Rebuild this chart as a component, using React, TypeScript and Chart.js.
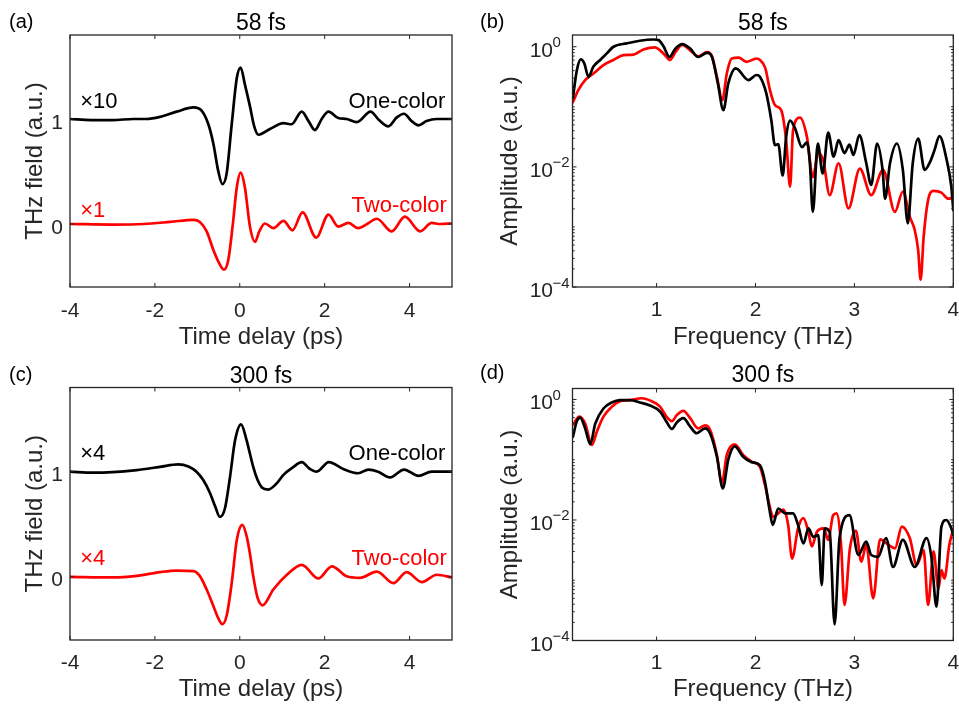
import React, { useEffect, useRef } from "react";
import { Chart, registerables } from "chart.js";

Chart.register(...registerables);

const FONT = '"Liberation Sans", Arial, Helvetica, sans-serif';
const AXIS_COLOR = "#262626";
const BLACK = "#000000";
const RED = "#ff0000";

// ---------- tick values ----------
const TIME_TICKS = [-4, -2, 0, 2, 4];
const FIELD_TICKS = [0, 1];
const FREQ_TICKS = [1, 2, 3, 4];
const AMP_TICKS = [1, 1e-2, 1e-4];
const AMP_EXP = ["0", "\u22122", "\u22124"];

// ---------- (a) 58 fs, time domain ----------
const A_ONE_T = [-4, -3.5, -3, -2.5, -2.2, -1.88, -1.49, -1.09, -0.9, -0.74, -0.62, -0.51, -0.41, -0.31, -0.19, -0.07, 0.02, 0.12, 0.24, 0.34, 0.44, 0.71, 1.03, 1.22, 1.46, 1.62, 1.77, 1.93, 2.09, 2.32, 2.52, 2.76, 3.08, 3.28, 3.5, 3.7, 3.87, 4.05, 4.21, 4.4, 4.64, 5.0];
const A_ONE_V = [1.0, 0.99, 0.99, 1.0, 1.0, 1.02, 1.07, 1.11, 1.08, 0.95, 0.76, 0.51, 0.38, 0.48, 0.95, 1.39, 1.49, 1.33, 1.12, 0.93, 0.85, 0.905, 0.96, 0.95, 1.07, 0.98, 0.895, 1.0, 1.07, 1.01, 1.0, 0.97, 1.07, 0.99, 0.93, 1.015, 1.05, 0.98, 0.94, 0.98, 1.0, 1.0];
const A_TWO_T = [-4, -3, -2.27, -1.64, -1.09, -0.94, -0.78, -0.62, -0.49, -0.37, -0.27, -0.17, -0.07, 0.02, 0.12, 0.24, 0.36, 0.46, 0.59, 0.79, 1.03, 1.24, 1.48, 1.8, 2.09, 2.32, 2.56, 2.79, 3.0, 3.23, 3.58, 3.89, 4.25, 4.52, 4.72, 5.0];
const A_TWO_V = [0, -0.005, 0, 0.02, 0.04, 0.02, -0.07, -0.25, -0.37, -0.435, -0.34, -0.025, 0.35, 0.49, 0.35, -0.025, -0.17, -0.07, 0.005, -0.04, 0.03, -0.06, 0.11, -0.13, 0.09, -0.025, 0.01, -0.04, 0.0, 0.05, -0.07, 0.07, -0.07, 0.01, 0.0, 0.005];

// ---------- (c) 300 fs, time domain ----------
const C_ONE_T = [-4, -3.45, -2.43, -1.88, -1.45, -1.21, -1.02, -0.86, -0.7, -0.58, -0.47, -0.35, -0.23, -0.11, 0.03, 0.16, 0.24, 0.32, 0.42, 0.52, 0.67, 0.85, 1.03, 1.25, 1.46, 1.64, 1.81, 2.1, 2.44, 2.79, 3.03, 3.26, 3.54, 3.87, 4.21, 4.52, 5.0];
const C_ONE_V = [1.0, 0.99, 1.015, 1.046, 1.07, 1.05, 1.0, 0.92, 0.795, 0.67, 0.57, 0.65, 0.95, 1.3, 1.45, 1.3, 1.17, 1.04, 0.92, 0.85, 0.83, 0.88, 0.97, 1.04, 1.09, 1.03, 1.0, 1.09, 1.025, 0.985, 1.02, 1.0, 0.945, 1.02, 0.96, 1.0, 1.0];
const C_TWO_T = [-4, -3, -2.43, -1.88, -1.49, -1.09, -0.94, -0.78, -0.62, -0.51, -0.41, -0.31, -0.19, -0.07, 0.06, 0.16, 0.24, 0.32, 0.42, 0.54, 0.79, 1.11, 1.46, 1.85, 2.17, 2.52, 2.83, 3.23, 3.62, 3.93, 4.29, 4.64, 5.0];
const C_TWO_V = [0, -0.005, 0.01, 0.045, 0.06, 0.055, 0.007, -0.12, -0.28, -0.39, -0.45, -0.37, -0.06, 0.35, 0.495, 0.39, 0.22, 0.0, -0.2, -0.27, -0.12, 0.02, 0.115, -0.015, 0.1, 0.005, -0.01, 0.05, -0.06, 0.045, -0.05, 0.02, -0.005];

// ---------- (b) 58 fs, spectra ----------
const B_ONE_F = [0.154, 0.194, 0.234, 0.27, 0.311, 0.362, 0.43, 0.497, 0.564, 0.699, 0.83, 0.97, 1.02, 1.07, 1.13, 1.19, 1.26, 1.34, 1.42, 1.51, 1.56, 1.62, 1.675, 1.725, 1.8, 1.93, 2.01, 2.045, 2.11, 2.16, 2.197, 2.23, 2.275, 2.31, 2.35, 2.4, 2.47, 2.52, 2.55, 2.58, 2.63, 2.68, 2.735, 2.79, 2.84, 2.9, 2.95, 2.99, 3.05, 3.12, 3.17, 3.23, 3.285, 3.31, 3.36, 3.43, 3.49, 3.54, 3.59, 3.645, 3.71, 3.77, 3.81, 3.86, 3.93, 3.98, 4.0];
const B_ONE_A = [0.141, 0.407, 0.617, 0.525, 0.316, 0.468, 0.603, 0.776, 1.0, 1.14, 1.26, 1.32, 1.29, 1.02, 0.676, 0.933, 1.11, 0.933, 0.676, 0.794, 0.676, 0.245, 0.088, 0.245, 0.437, 0.279, 0.339, 0.316, 0.166, 0.06, 0.0229, 0.024, 0.0072, 0.0316, 0.0589, 0.0437, 0.0214, 0.0257, 0.0115, 0.00178, 0.0245, 0.00776, 0.0372, 0.0148, 0.0279, 0.017, 0.0234, 0.0158, 0.0339, 0.0115, 0.005, 0.0245, 0.0089, 0.00295, 0.0115, 0.0245, 0.0089, 0.00115, 0.0115, 0.0295, 0.0089, 0.0126, 0.019, 0.0324, 0.0138, 0.00468, 0.0019];
const B_TWO_F = [0.154, 0.21, 0.278, 0.362, 0.463, 0.564, 0.665, 0.766, 0.867, 0.985, 1.035, 1.086, 1.136, 1.19, 1.26, 1.34, 1.42, 1.51, 1.56, 1.61, 1.665, 1.71, 1.76, 1.83, 1.91, 2.01, 2.045, 2.1, 2.146, 2.197, 2.26, 2.31, 2.35, 2.38, 2.45, 2.52, 2.58, 2.635, 2.685, 2.75, 2.84, 2.94, 3.055, 3.17, 3.29, 3.41, 3.49, 3.56, 3.61, 3.645, 3.67, 3.7, 3.745, 3.8, 3.88, 3.95, 4.0];
const B_TWO_A = [0.12, 0.191, 0.279, 0.359, 0.495, 0.603, 0.724, 0.741, 0.902, 0.977, 0.871, 0.724, 0.603, 0.813, 1.07, 0.871, 0.692, 0.813, 0.692, 0.316, 0.129, 0.359, 0.638, 0.661, 0.562, 0.638, 0.603, 0.437, 0.191, 0.107, 0.088, 0.0279, 0.00468, 0.0407, 0.066, 0.0316, 0.00676, 0.017, 0.0129, 0.00339, 0.0115, 0.00204, 0.00933, 0.00339, 0.0089, 0.00178, 0.00389, 0.00148, 0.00089, 0.000407, 0.000132, 0.000676, 0.00279, 0.00398, 0.00372, 0.00295, 0.00316];

// ---------- (d) 300 fs, spectra ----------
const D_ONE_F = [0.154, 0.194, 0.227, 0.278, 0.33, 0.38, 0.463, 0.547, 0.63, 0.73, 0.83, 0.934, 1.035, 1.1, 1.155, 1.205, 1.27, 1.34, 1.405, 1.49, 1.54, 1.61, 1.67, 1.725, 1.79, 1.875, 1.96, 2.045, 2.096, 2.14, 2.175, 2.23, 2.3, 2.38, 2.43, 2.485, 2.535, 2.585, 2.635, 2.67, 2.7, 2.75, 2.8, 2.85, 2.95, 3.04, 3.12, 3.17, 3.24, 3.32, 3.39, 3.49, 3.61, 3.73, 3.78, 3.83, 3.88, 3.93, 3.98, 4.0];
const D_ONE_A = [0.24, 0.437, 0.501, 0.331, 0.182, 0.398, 0.708, 0.891, 0.977, 0.977, 0.891, 0.794, 0.631, 0.427, 0.324, 0.417, 0.49, 0.355, 0.275, 0.331, 0.275, 0.112, 0.0335, 0.1, 0.166, 0.112, 0.0912, 0.0813, 0.0432, 0.0155, 0.00832, 0.0155, 0.0129, 0.0129, 0.00832, 0.00407, 0.00724, 0.00525, 0.00562, 0.000832, 0.00724, 0.00631, 0.000186, 0.00501, 0.012, 0.00263, 0.00437, 0.00263, 0.00245, 0.00501, 0.00166, 0.00468, 0.00166, 0.00501, 0.00234, 0.000363, 0.00776, 0.01, 0.00724, 0.00562];
const D_TWO_F = [0.154, 0.22, 0.278, 0.346, 0.397, 0.463, 0.547, 0.63, 0.73, 0.85, 0.95, 1.035, 1.1, 1.155, 1.205, 1.27, 1.34, 1.42, 1.49, 1.54, 1.61, 1.66, 1.71, 1.79, 1.875, 1.96, 2.045, 2.096, 2.14, 2.18, 2.23, 2.28, 2.33, 2.37, 2.43, 2.485, 2.535, 2.57, 2.62, 2.69, 2.735, 2.785, 2.82, 2.865, 2.9, 2.955, 3.015, 3.07, 3.12, 3.19, 3.26, 3.34, 3.41, 3.48, 3.56, 3.63, 3.7, 3.745, 3.8, 3.85, 3.88, 3.91, 3.96, 4.0];
const D_TWO_A = [0.38, 0.519, 0.398, 0.176, 0.295, 0.519, 0.759, 0.933, 0.977, 1.047, 0.933, 0.759, 0.519, 0.437, 0.55, 0.646, 0.49, 0.331, 0.372, 0.316, 0.12, 0.0407, 0.12, 0.18, 0.12, 0.0933, 0.0759, 0.038, 0.0178, 0.0112, 0.0129, 0.0148, 0.00832, 0.00229, 0.00724, 0.0107, 0.00631, 0.00363, 0.00631, 0.00724, 0.00468, 0.012, 0.0129, 0.00389, 0.000389, 0.00339, 0.00661, 0.00204, 0.00389, 0.000501, 0.00479, 0.00389, 0.00339, 0.00776, 0.00501, 0.00178, 0.00316, 0.000389, 0.00302, 0.000724, 0.00148, 0.00107, 0.00389, 0.00708];

type Series = { x: number[]; y: number[]; color: string };
type Note = { text: string; x: number; y: number; color: string; align: CanvasTextAlign };
type PanelSpec = {
  key: string;
  left: number;
  top: number;
  w: number;
  h: number;
  area: { l: number; t: number; r: number; b: number };
  letter: string;
  letterX: number;
  letterY: number;
  title: string;
  titleY: number;
  xMin: number;
  xMax: number;
  xTicks: number[];
  xLabelDy: number;
  xTitle: string;
  xTitlePad: number;
  log: boolean;
  yMin: number;
  yMax: number;
  yTicks: number[];
  yTitle: string;
  yTitlePad: number;
  series: Series[];
  notes: Note[];
};

const TIME_NOTES = (scaleOne: string, scaleTwo: string, yOne: number, yTwo: number, yTwoLabel: number): Note[] => [
  { text: scaleOne, x: -3.76, y: yOne, color: BLACK, align: "left" },
  { text: "One-color", x: 4.84, y: yOne, color: BLACK, align: "right" },
  { text: scaleTwo, x: -3.76, y: yTwo, color: RED, align: "left" },
  { text: "Two-color", x: 4.88, y: yTwoLabel, color: RED, align: "right" },
];

const PANELS: PanelSpec[] = [
  {
    key: "a", left: 0, top: 0, w: 480, h: 353,
    area: { l: 70, t: 35, r: 452, b: 287 },
    letter: "(a)", letterX: 9, letterY: 28, title: "58 fs", titleY: 30,
    xMin: -4, xMax: 5, xTicks: TIME_TICKS, xLabelDy: 29.5, xTitle: "Time delay (ps)", xTitlePad: 0.8,
    log: false, yMin: -0.6, yMax: 1.8, yTicks: FIELD_TICKS, yTitle: "THz field (a.u.)", yTitlePad: 21,
    series: [
      { x: A_ONE_T, y: A_ONE_V, color: BLACK },
      { x: A_TWO_T, y: A_TWO_V, color: RED },
    ],
    notes: TIME_NOTES("\u00d710", "\u00d71", 1.107, 0.066, 0.113),
  },
  {
    key: "b", left: 480, top: 0, w: 479, h: 353,
    area: { l: 92.5, t: 35, r: 473.3, b: 287 },
    letter: "(b)", letterX: 0, letterY: 28, title: "58 fs", titleY: 29.5,
    xMin: 0.15, xMax: 4, xTicks: FREQ_TICKS, xLabelDy: 28.5, xTitle: "Frequency (THz)", xTitlePad: 0.8,
    log: true, yMin: 1e-4, yMax: 1.57, yTicks: AMP_TICKS, yTitle: "Amplitude (a.u.)", yTitlePad: 16,
    series: [
      { x: B_ONE_F, y: B_ONE_A, color: BLACK },
      { x: B_TWO_F, y: B_TWO_A, color: RED },
    ],
    notes: [],
  },
  {
    key: "c", left: 0, top: 353, w: 480, h: 352,
    area: { l: 70, t: 34.5, r: 452, b: 287 },
    letter: "(c)", letterX: 9, letterY: 28, title: "300 fs", titleY: 29.5,
    xMin: -4, xMax: 5, xTicks: TIME_TICKS, xLabelDy: 28.5, xTitle: "Time delay (ps)", xTitlePad: 0.8,
    log: false, yMin: -0.6, yMax: 1.8, yTicks: FIELD_TICKS, yTitle: "THz field (a.u.)", yTitlePad: 21,
    series: [
      { x: C_ONE_T, y: C_ONE_V, color: BLACK },
      { x: C_TWO_T, y: C_TWO_V, color: RED },
    ],
    notes: TIME_NOTES("\u00d74", "\u00d74", 1.11, 0.116, 0.116),
  },
  {
    key: "d", left: 480, top: 353, w: 479, h: 352,
    area: { l: 92.5, t: 35.5, r: 473.3, b: 287.5 },
    letter: "(d)", letterX: 0, letterY: 26, title: "300 fs", titleY: 29,
    xMin: 0.15, xMax: 4, xTicks: FREQ_TICKS, xLabelDy: 28, xTitle: "Frequency (THz)", xTitlePad: 0.8,
    log: true, yMin: 1e-4, yMax: 1.52, yTicks: AMP_TICKS, yTitle: "Amplitude (a.u.)", yTitlePad: 16,
    series: [
      { x: D_ONE_F, y: D_ONE_A, color: BLACK },
      { x: D_TWO_F, y: D_TWO_A, color: RED },
    ],
    notes: [],
  },
];

function makeFramePlugin(spec: PanelSpec) {
  return {
    id: "matlabFrame",
    afterDatasetsDraw(chart: any) {
      const { ctx, chartArea: a } = chart;
      const xs = chart.scales.x;
      const ys = chart.scales.y;
      const major = 4;
      const minor = 2.2;
      ctx.save();
      ctx.strokeStyle = AXIS_COLOR;
      ctx.lineWidth = 1;
      ctx.beginPath();
      for (const v of spec.xTicks) {
        const px = xs.getPixelForValue(v);
        ctx.moveTo(px, a.bottom);
        ctx.lineTo(px, a.bottom - major);
        ctx.moveTo(px, a.top);
        ctx.lineTo(px, a.top + major);
      }
      const yTick = (v: number, len: number) => {
        const py = ys.getPixelForValue(v);
        ctx.moveTo(a.left, py);
        ctx.lineTo(a.left + len, py);
        ctx.moveTo(a.right, py);
        ctx.lineTo(a.right - len, py);
      };
      for (const v of spec.yTicks) yTick(v, major);
      if (spec.log) {
        for (let e = -4; e <= 0; e++) {
          for (let k = 1; k <= 9; k++) {
            const v = k * Math.pow(10, e);
            if (v > spec.yMax || v < spec.yMin) continue;
            if (spec.yTicks.some((t) => Math.abs(Math.log10(t) - Math.log10(v)) < 1e-6)) continue;
            yTick(v, minor);
          }
        }
      }
      ctx.stroke();
      ctx.lineWidth = 1.3;
      ctx.strokeRect(a.left, a.top, a.right - a.left, a.bottom - a.top);

      // x tick labels
      ctx.fillStyle = AXIS_COLOR;
      ctx.textBaseline = "alphabetic";
      ctx.font = `21px ${FONT}`;
      ctx.textAlign = "center";
      for (const v of spec.xTicks) {
        ctx.fillText(String(v), xs.getPixelForValue(v), a.bottom + spec.xLabelDy);
      }

      // y tick labels
      if (spec.log) {
        spec.yTicks.forEach((v, i) => {
          const py = ys.getPixelForValue(v);
          ctx.font = `21px ${FONT}`;
          ctx.textAlign = "right";
          ctx.fillText("10", a.left - 19.5, py + 10);
          ctx.font = `15px ${FONT}`;
          ctx.textAlign = "left";
          ctx.fillText(AMP_EXP[i], a.left - 20, py + 0.5);
        });
      } else {
        ctx.font = `21px ${FONT}`;
        ctx.textAlign = "right";
        for (const v of spec.yTicks) {
          ctx.fillText(String(v), a.left - 7, ys.getPixelForValue(v) + 9.5);
        }
      }

      // title
      ctx.fillStyle = "#000";
      ctx.textAlign = "center";
      ctx.font = `23px ${FONT}`;
      ctx.fillText(spec.title, (a.left + a.right) / 2, spec.titleY);

      // panel letter
      ctx.textAlign = "left";
      ctx.font = `20px ${FONT}`;
      ctx.fillText(spec.letter, spec.letterX, spec.letterY);

      // annotations
      ctx.font = `22px ${FONT}`;
      for (const n of spec.notes) {
        ctx.fillStyle = n.color;
        ctx.textAlign = n.align;
        ctx.fillText(n.text, xs.getPixelForValue(n.x), ys.getPixelForValue(n.y));
      }
      ctx.restore();
    },
  };
}

function Panel({ spec }: { spec: PanelSpec }) {
  const ref = useRef<HTMLCanvasElement | null>(null);
  useEffect(() => {
    const canvas = ref.current;
    if (!canvas) return;
    const datasets = spec.series.map((s) => ({
      data: s.x.map((x, i) => ({ x, y: s.y[i] })),
      borderColor: s.color,
      backgroundColor: s.color,
      borderWidth: 2.7,
      pointRadius: 0,
      fill: false,
      cubicInterpolationMode: "monotone" as const,
      borderJoinStyle: "round" as const,
      borderCapStyle: "round" as const,
    }));
    const chart = new Chart(canvas, {
      type: "line",
      data: { datasets },
      options: {
        animation: false,
        responsive: false,
        maintainAspectRatio: false,
        devicePixelRatio: 1,
        events: [],
        layout: { padding: { left: 0, top: spec.area.t, right: spec.w - spec.area.r, bottom: 0 } },
        plugins: {
          legend: { display: false },
          tooltip: { enabled: false },
          title: { display: false },
        },
        scales: {
          x: {
            type: "linear",
            min: spec.xMin,
            max: spec.xMax,
            afterBuildTicks: (s: any) => {
              s.ticks = spec.xTicks.map((v) => ({ value: v }));
            },
            afterFit: (s: any) => {
              s.height = spec.h - spec.area.b;
            },
            grid: { display: false, drawTicks: false },
            border: { display: false },
            ticks: { display: false },
            title: {
              display: true,
              text: spec.xTitle,
              color: AXIS_COLOR,
              font: { family: FONT, size: 24 },
              padding: { top: 0, bottom: spec.xTitlePad },
            },
          },
          y: {
            type: spec.log ? "logarithmic" : "linear",
            min: spec.yMin,
            max: spec.yMax,
            afterBuildTicks: (s: any) => {
              s.ticks = spec.yTicks.map((v) => ({ value: v }));
            },
            afterFit: (s: any) => {
              s.width = spec.area.l;
            },
            grid: { display: false, drawTicks: false },
            border: { display: false },
            ticks: { display: false },
            title: {
              display: true,
              text: spec.yTitle,
              color: AXIS_COLOR,
              font: { family: FONT, size: 24 },
              padding: { top: spec.yTitlePad, bottom: 0 },
            },
          },
        },
      } as any,
      plugins: [makeFramePlugin(spec)],
    });
    return () => chart.destroy();
  }, [spec]);
  return (
    <canvas
      ref={ref}
      width={spec.w}
      height={spec.h}
      style={{ position: "absolute", left: spec.left, top: spec.top, width: spec.w, height: spec.h }}
    />
  );
}

export default function App() {
  return (
    <div
      style={{
        position: "fixed",
        left: 0,
        top: 0,
        width: 959,
        height: 705,
        background: "#ffffff",
        overflow: "hidden",
      }}
    >
      {PANELS.map((p) => (
        <Panel key={p.key} spec={p} />
      ))}
    </div>
  );
}
